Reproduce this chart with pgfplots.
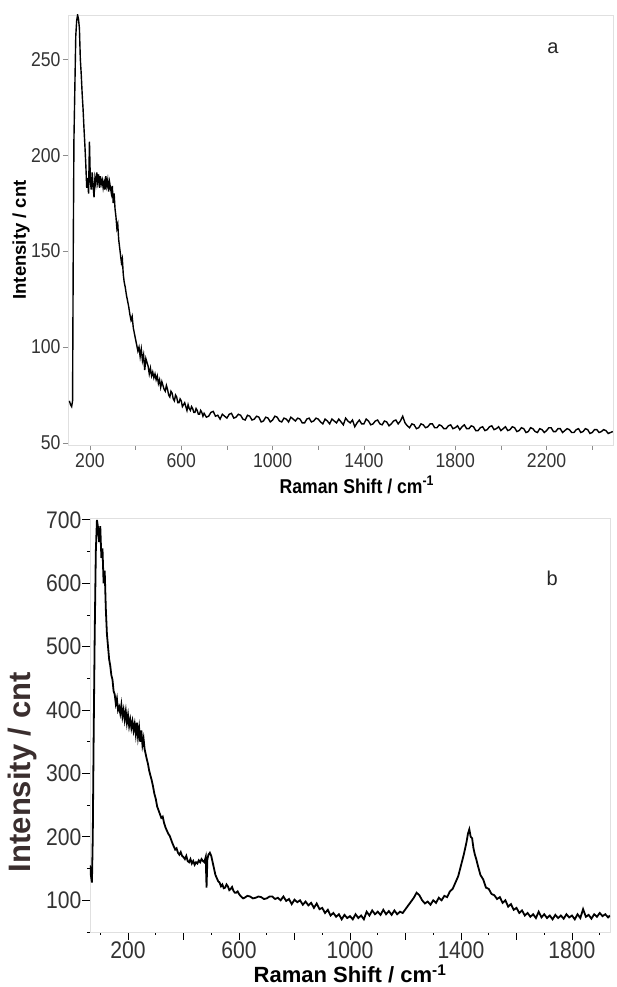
\documentclass[border=0pt]{standalone}
\usepackage{fontspec}
\setmainfont{Liberation Sans}
\newfontfamily\narrowsans[FakeStretch=0.88]{Liberation Sans}
\usepackage{pgfplots}
\pgfplotsset{compat=1.18}
\definecolor{labb}{HTML}{3A2E2E}
\begin{document}
\begin{tikzpicture}
\useasboundingbox (0pt,0pt) rectangle (616pt,987pt);
% ---------- panel a ----------
\begin{axis}[at={(68pt,542pt)}, anchor=south west, scale only axis,
  width=545pt, height=430pt,
  xmin=104, xmax=2491, ymin=49, ymax=273,
  xtick={200,400,...,2400}, xticklabels={200,,600,,1000,,1400,,1800,,2200,},
  ytick={50,100,150,200,250},
  tick pos=left,
  axis line style={draw=black!12},
  tick style={black!45, line width=0.6pt}, tick align=outside, major tick length=5pt,
  /pgf/number format/assume math mode=true,
  tick label style={font=\narrowsans\fontsize{20}{20}\selectfont, text=black!80},
  yticklabel style={xshift=1pt},
  xlabel={\textbf{Raman Shift / cm\textsuperscript{-1}}},
  xlabel style={font=\narrowsans\fontsize{20}{20}\selectfont, at={(axis description cs:0.53,-0.093)}, anchor=center},
  ylabel={\textbf{Intensity / cnt}},
  ylabel style={font=\fontsize{18.5}{18.5}\selectfont, at={(axis description cs:-0.086,0.477)}, anchor=center},
]
\addplot[black, line width=1.4pt] coordinates {
(110,72)(115,70)(120,69)(124,72)(127,150)(130,208)(134,235)(138,262)(142,270)(146,273)(150,271)(154,266)(158,250)(162,242)(166,232)(170,224)(174,214)(178,205)(182,195)(186,183)(190,188)(194,180)(198,207)(202,186)(206,182)(210,191)(214,184)(218,178)(222,188)(226,185)(230,191)(234,186)(238,190)(242,183)(246,189)(250,185)(254,187)(258,183)(262,186)(266,182)(270,189)(274,184)(278,187)(282,181)(286,186)(290,183)(294,180)(298,184)(302,175)(306,180)(310,172)(314,168)(318,162)(322,164)(326,156)(330,152)(334,148)(338,144)(342,146)(346,138)(350,134)(355,131)(360,127)(365,124)(370,121)(375,117)(380,114)(385,116)(390,110)(395,107)(400,104)(405,101)(410,98)(415,100)(420,95)(425,99)(430,93)(435,96)(440,88)(445,94)(450,92)(455,90)(460,86)(465,89)(470,85)(475,87)(480,84)(485,86)(490,83)(495,85)(500,81)(505,83)(510,79)(515,82)(520,80)(525,78)(530,77)(535,80)(540,78)(545,75)(550,74)(555,77)(560,76)(565,73)(570,72)(575,75)(580,74)(585,71)(590,71)(595,73)(600,72)(605,69)(610,70)(615,71)(620,69)(625,67)(630,70)(635,68)(640,67)(645,69)(650,68)(655,66)(660,66)(665,68)(670,67)(675,65)(680,65)(685,67)(690,66)(695,64)
(700,65.5)(710,63.5)(720,64)(730,66)(740,66.5)(750,64)(760,64.5)(770,62.5)(780,65)(790,64)(800,63)(810,65)(820,65.5)(830,63)(840,63.5)(850,65)(860,64.5)(870,62.5)(880,62)(890,64.5)(900,64)(910,62)(920,62.5)(930,64)(940,63.5)(950,61)(960,61.5)(970,63.5)(980,63)(990,61)(1000,62)(1010,64)(1020,63.5)(1030,61.5)(1040,61)(1050,63)(1060,62.5)(1070,61)(1080,63.5)(1090,62.5)(1100,61.5)(1110,63)(1120,62.5)(1130,60.5)(1140,60.5)(1150,62.5)(1160,63)(1170,61)(1180,61.5)(1190,63)(1200,62.5)(1210,61)(1220,60)(1230,62.5)(1240,61.5)(1250,60)(1260,62.5)(1270,61.5)(1280,60.5)(1290,62.5)(1300,61)(1310,59.5)(1320,63)(1330,61.5)(1340,60.5)(1350,62)(1360,58.5)(1370,60.5)(1380,62)(1390,60)(1400,60)(1410,62.5)(1420,61.5)(1430,59.5)(1440,60)(1450,61.5)(1460,62)(1470,60)(1480,59.5)(1490,61.5)(1500,61)(1510,59)(1520,60)(1530,61.5)(1540,62)(1550,60)(1560,61.5)(1570,64)(1580,60.5)(1590,59)(1600,58)(1610,60)(1620,59.5)(1630,57.5)(1640,58)(1650,60)(1660,59.5)(1670,58)(1680,58.5)(1690,60)(1700,60)(1710,58)(1720,58)(1730,59.5)(1740,59)(1750,57.5)(1760,57.5)(1770,59)(1780,59.5)(1790,57.5)(1800,58)(1810,59)(1820,57)(1830,58.5)(1840,59.5)(1850,57.5)(1860,57.5)(1870,59)(1880,58.5)(1890,56.5)(1900,56.5)(1910,58)(1920,58.5)(1930,56.5)(1940,57)(1950,58.5)(1960,59)(1970,57)(1980,57.5)(1990,58.5)(2000,56.5)(2010,57.5)(2020,58.5)(2030,56.5)(2040,57)(2050,58.5)(2060,58)(2070,56)(2080,56.5)(2090,58)(2100,57.5)(2110,55.5)(2120,56)(2130,58)(2140,57.5)(2150,56)(2160,55.5)(2170,57.5)(2180,57)(2190,55.5)(2200,56.5)(2210,58)(2220,58)(2230,56)(2240,56)(2250,57.5)(2260,57.5)(2270,55.5)(2280,56.5)(2290,57.5)(2300,57)(2310,55.5)(2320,55.5)(2330,57)(2340,57.5)(2350,55.5)(2360,56)(2370,57.5)(2380,57)(2390,55)(2400,55.5)(2410,57)(2420,57)(2430,55.5)(2440,56)(2450,57)(2460,56.5)(2470,55)(2480,55.5)(2490,56)
};
\node[font=\fontsize{20}{20}\selectfont, text=black!85] at (axis description cs:0.89,0.923) {a};
\end{axis}
% ---------- panel b ----------
\begin{axis}[at={(90pt,55pt)}, anchor=south west, scale only axis,
  width=520pt, height=414pt,
  xmin=63, xmax=1937, ymin=50, ymax=703,
  xtick={200,400,...,1800}, xticklabels={200,,600,,1000,,1400,,1800},
  minor xtick={100,300,...,1900},
  ytick={100,200,...,700},
  minor ytick={50,150,...,650},
  tick pos=left,
  axis line style={draw=black!12},
  tick style={black, line width=0.8pt}, tick align=outside,
  major tick length=8pt, minor tick length=3pt,
  /pgf/number format/assume math mode=true,
  tick label style={font=\narrowsans\fontsize{24}{24}\selectfont, text=black!80},
  yticklabel style={xshift=3pt},
  xticklabel style={yshift=2pt},
  xlabel={\textbf{Raman Shift / cm\textsuperscript{-1}}},
  xlabel style={font=\fontsize{22}{22}\selectfont, at={(axis description cs:0.5,-0.101)}, anchor=center},
  ylabel={\textbf{Intensity / cnt}},
  ylabel style={font=\fontsize{31}{31}\selectfont, text=labb, at={(axis description cs:-0.13,0.386)}, anchor=center},
]
\addplot[black, line width=1.8pt] coordinates {
(63,155)(66,140)(70,128)(73,200)(76,350)(80,520)(84,650)(88,700)(92,688)(96,665)(100,690)(104,640)(108,655)(112,600)(116,620)(120,560)(124,520)(128,500)(132,480)(136,470)(140,455)(144,448)(148,430)(152,425)(156,410)(160,418)(164,400)(168,405)(172,395)(176,408)(180,390)(184,400)(188,385)(192,398)(196,380)(200,392)(204,375)(208,385)(212,372)(216,382)(220,368)(224,378)(228,362)(232,380)(236,358)(240,372)(244,350)(248,368)(252,345)(256,355)(260,338)(264,330)(268,322)(272,315)(276,305)(280,298)(285,290)(290,280)(295,268)(300,260)(305,248)(310,242)(315,236)(320,230)(325,232)(330,222)(335,215)(340,210)(345,205)(350,202)(355,196)(360,190)(365,185)(370,180)(375,182)(380,175)(385,172)(390,176)(395,170)(400,168)(405,165)(410,170)(415,162)(420,160)(425,165)(430,158)(435,162)(440,156)(445,160)(450,158)(455,163)(460,160)(465,165)(470,162)(475,160)(480,168)(483,120)(486,165)(490,172)(495,175)(500,170)(505,160)(510,150)(515,140)(520,135)(525,130)(530,128)(535,122)(540,125)(545,119)(550,120)(555,125)(560,122)(565,116)(570,118)(575,121)(580,115)(585,112)(590,112)(595,114)(600,110)(605,107)(610,105)(615,103)(620,104)(630,107)(640,106)(650,103)(660,104)(670,106)(680,105)(690,102)(700,103)(710,106)(720,106)(730,102)
(740,104)(750,100)(760,106)(770,99)(780,102)(790,94)(800,101)(810,97)(820,100)(830,93)(840,98)(850,92)(860,96)(870,88)(880,95)(890,86)(900,88)(910,80)(920,85)(930,76)(940,80)(950,74)(960,78)(970,70)(980,77)(990,72)(1000,75)(1010,70)(1020,78)(1030,72)(1040,76)(1050,70)(1060,82)(1070,76)(1080,84)(1090,78)(1100,82)(1110,77)(1120,85)(1130,78)(1140,83)(1150,77)(1160,84)(1170,78)(1180,82)(1190,80)(1200,86)(1210,92)(1220,98)(1230,104)(1240,112)(1250,108)(1260,100)(1270,95)(1280,98)(1290,93)(1300,100)(1310,96)(1320,104)(1330,100)(1340,107)(1350,105)(1360,114)(1370,118)(1380,128)(1390,138)(1400,155)(1410,172)(1420,192)(1425,205)(1430,212)(1435,200)(1440,198)(1445,182)(1450,172)(1455,165)(1460,156)(1470,140)(1480,133)(1490,120)(1500,118)(1510,110)(1520,108)(1530,102)(1540,105)(1550,96)(1560,100)(1570,90)(1580,94)(1590,85)(1600,88)(1610,80)(1620,84)(1630,76)(1640,80)(1650,74)(1660,78)(1670,72)(1680,82)(1690,73)(1700,78)(1710,72)(1720,76)(1730,70)(1740,77)(1750,72)(1760,76)(1770,71)(1780,78)(1790,73)(1800,76)(1810,70)(1820,78)(1830,72)(1840,86)(1850,74)(1860,77)(1870,71)(1880,78)(1890,74)(1900,80)(1910,75)(1920,78)(1930,73)(1937,76)
};
\node[font=\fontsize{20}{20}\selectfont, text=black!85] at (axis description cs:0.889,0.855) {b};
\end{axis}
\end{tikzpicture}
\end{document}
